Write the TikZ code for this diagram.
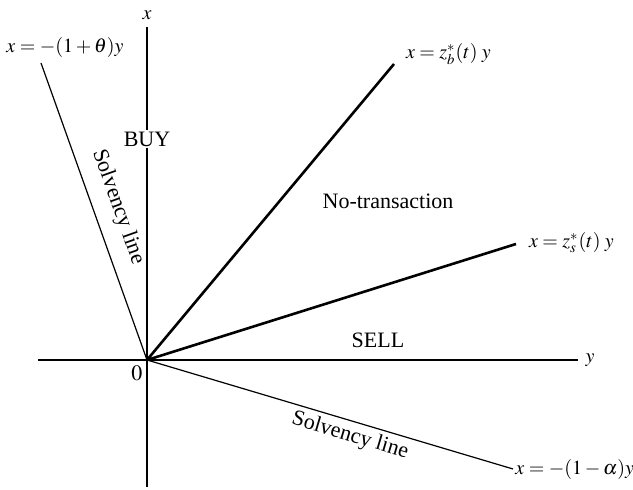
\documentclass[tikz,border=0pt]{standalone}
\usepackage{mathptmx}
\usepackage{fontspec}
\setmainfont{Liberation Serif}
\begin{document}
\begin{tikzpicture}[x=25pt,y=25pt,font=\fontsize{11}{13}\selectfont,
  axis/.style={line width=0.6pt},
  bound/.style={line width=1.3pt},
  eqn/.style={font=\fontsize{10}{12}\selectfont}]
\useasboundingbox (-2.94,-2.6) rectangle (9.72,7.2);
% coordinates
\coordinate (O)   at ( 0.00, 0.00);%
\coordinate (YW)  at (-2.18, 0.00);%
\coordinate (YE)  at ( 8.62, 0.00);%
\coordinate (XN)  at ( 0.00, 6.66);%
\coordinate (XS)  at ( 0.00,-2.54);%
\coordinate (SU)  at (-2.12, 5.94);%
\coordinate (ZB)  at ( 4.94, 5.92);%
\coordinate (ZS)  at ( 7.38, 2.32);%
\coordinate (SL)  at ( 7.32,-2.18);%
% axes
\draw[axis] (YW) -- (YE);
\draw[axis] (XS) -- (XN);
% solvency lines
\draw[axis] (O) -- (SU);
\draw[axis] (O) -- (SL);
% boundaries
\draw[bound] (O) -- (ZB);
\draw[bound] (O) -- (ZS);
% labels
\node[eqn] (ylab) at ( 8.86, 0.00) {$y$};
\node[eqn] (xlab) at ( 0.00, 6.90) {$x$};
\node (zero) at (-0.20,-0.26) {$0$};
\node[eqn] (lsu)  at (-1.64, 6.24) {$x=-(1+\theta)y$};
\node[eqn,anchor=west] (lzb) at ( 5.04, 6.12) {$x=z_b^*(t)\;y$};
\node[eqn,anchor=west] (lzs) at ( 7.50, 2.34) {$x=z_s^*(t)\;y$};
\node[eqn,anchor=west,inner sep=1pt] (lsl) at ( 7.32,-2.20) {$x=-(1-\alpha)y$};
\node[fill=white,inner sep=1pt] (buy) at ( 0.00, 4.42) {BUY};
\node (nt)   at ( 4.82, 3.18) {No-transaction};
\node (sell) at ( 4.62, 0.40) {SELL};
\node[rotate=-70.4] (svu) at (-0.58, 3.06) {Solvency line};
\node[rotate=-16.6] (svl) at ( 4.06,-1.52) {Solvency line};
\end{tikzpicture}
\end{document}
